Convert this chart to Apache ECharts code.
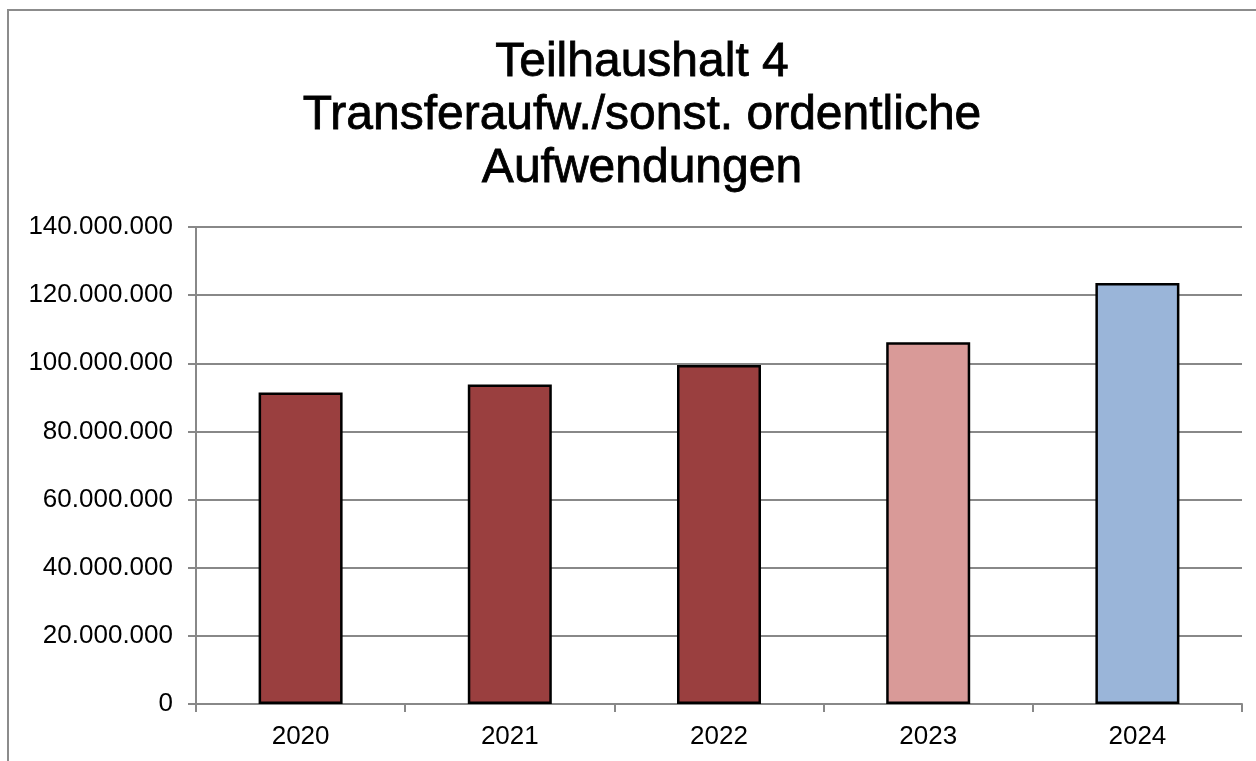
<!DOCTYPE html>
<html>
<head>
<meta charset="utf-8">
<script src="https://cdn.jsdelivr.net/npm/echarts@6/dist/echarts.min.js"></script>
<style>
  html, body { margin: 0; padding: 0; background: #fff; }
  #chart { width: 1256px; height: 761px; }
</style>
</head>
<body>
<div id="chart"></div>
<script>
// data
const years = ["2020", "2021", "2022", "2023", "2024"];
const values = [91400000, 93800000, 99500000, 106200000, 123600000];
const barColors = ["#9a3f3f", "#9a3f3f", "#9a3f3f", "#d99a98", "#9ab5d9"];
const titleText = "Teilhaushalt 4\nTransferaufw./sonst. ordentliche\nAufwendungen";

// 140000000 -> "140.000.000"
function fmt(v) {
  return String(Math.round(v)).replace(/\B(?=(\d{3})+(?!\d))/g, ".");
}

const chart = echarts.init(document.getElementById("chart"));
chart.setOption({
  animation: false,
  backgroundColor: "#fff",
  textStyle: { fontFamily: "Liberation Sans, Arial, sans-serif" },
  title: {
    text: titleText,
    left: 637,
    top: 31,
    textAlign: "center",
    textStyle: {
      fontFamily: "Liberation Sans, Arial, sans-serif",
      fontSize: 48,
      fontWeight: "normal",
      lineHeight: 53,
      color: "#000",
      textBorderColor: "#000",
      textBorderWidth: 0.8,
    },
  },
  // outer chart border (cut off at right and bottom)
  graphic: [
    {
      type: "rect",
      shape: { x: 8, y: 10, width: 1400, height: 900 },
      style: { fill: "none", stroke: "#8c8c8c", lineWidth: 2 },
      silent: true,
      z: -1,
    },
  ],
  grid: { left: 196, right: 14, top: 227, bottom: 57 },
  xAxis: {
    type: "category",
    data: years,
    axisLine: { lineStyle: { color: "#888", width: 2 } },
    axisTick: { show: true, length: 8, inside: false, lineStyle: { color: "#888", width: 2 } },
    axisLabel: { color: "#000", fontSize: 26, margin: 20 },
  },
  yAxis: {
    type: "value",
    min: 0,
    max: 140000000,
    interval: 20000000,
    axisLine: { show: true, lineStyle: { color: "#888", width: 2 } },
    axisTick: { show: true, length: 8, lineStyle: { color: "#888", width: 2 } },
    splitLine: { lineStyle: { color: "#888", width: 2 } },
    axisLabel: { color: "#000", fontSize: 26, margin: 23, formatter: fmt },
  },
  series: [
    {
      type: "bar",
      barWidth: 84,
      data: values.map((v, i) => ({
        value: v,
        itemStyle: { color: barColors[i] },
      })),
      itemStyle: { borderColor: "#000", borderWidth: 2.5 },
    },
  ],
});
</script>
</body>
</html>
